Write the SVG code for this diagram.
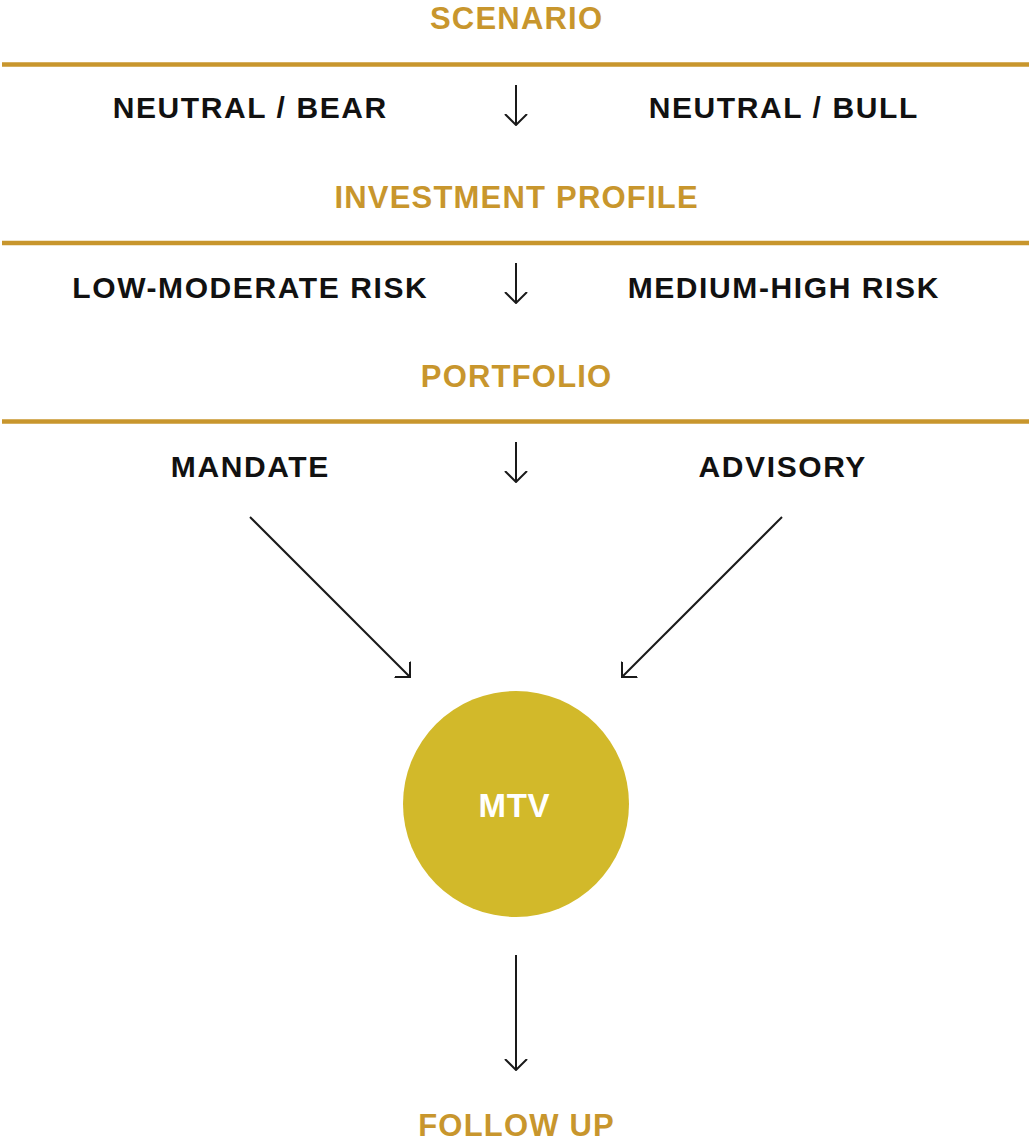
<svg xmlns="http://www.w3.org/2000/svg" width="1029" height="1144" viewBox="0 0 1029 1144">
<style>
.h{font-family:"Liberation Sans",Arial,sans-serif;font-weight:700;font-size:31px;fill:#C8962D;text-anchor:middle;letter-spacing:1.2px}
.t{font-family:"Liberation Sans",Arial,sans-serif;font-weight:700;font-size:30px;fill:#111;text-anchor:middle;letter-spacing:1.6px}
.rule{stroke:#C8962D;stroke-width:4.5}
.c{stroke:#1a1a1a;stroke-width:2;fill:none}
</style>
<defs>
<marker id="ah" viewBox="0 0 12 24" refX="11" refY="12" markerWidth="12" markerHeight="24" markerUnits="userSpaceOnUse" orient="auto">
<path d="M0,1 L11,12 L0,23" fill="none" stroke="#1a1a1a" stroke-width="2"/>
</marker>
</defs>
<rect width="1029" height="1144" fill="#fff"/>
<g id="scenario"><text class="h" x="516.6" y="29">SCENARIO</text></g>
<line class="rule" x1="2" y1="64.5" x2="1029" y2="64.5"/>
<g id="neutral-bear"><text class="t" x="250.3" y="118">NEUTRAL / BEAR</text></g>
<g id="neutral-bull"><text class="t" x="783.8" y="118">NEUTRAL / BULL</text></g>
<g id="investment-profile"><text class="h" x="516.6" y="207.5">INVESTMENT PROFILE</text></g>
<line class="rule" x1="2" y1="243" x2="1029" y2="243"/>
<g id="low-moderate"><text class="t" x="250.3" y="298">LOW-MODERATE RISK</text></g>
<g id="medium-high"><text class="t" x="783.8" y="298">MEDIUM-HIGH RISK</text></g>
<g id="portfolio"><text class="h" x="516.6" y="387">PORTFOLIO</text></g>
<line class="rule" x1="2" y1="421.5" x2="1029" y2="421.5"/>
<g id="mandate"><text class="t" x="250.3" y="476.5">MANDATE</text></g>
<g id="advisory"><text class="t" x="782.8" y="476.5">ADVISORY</text></g>
<g id="mtv">
<circle cx="516" cy="804" r="113" fill="#D2B92A"/>
<text x="514.3" y="817" style="font-family:'Liberation Sans',Arial,sans-serif;fill:#fff;font-size:33px;font-weight:700;text-anchor:middle;letter-spacing:0.6px">MTV</text>
</g>
<g id="follow-up"><text class="h" x="516.6" y="1136">FOLLOW UP</text></g>
<g id="connectors">
<line class="c" x1="516" y1="85" x2="516" y2="125" marker-end="url(#ah)"/>
<line class="c" x1="516" y1="263" x2="516" y2="303" marker-end="url(#ah)"/>
<line class="c" x1="516" y1="442" x2="516" y2="482" marker-end="url(#ah)"/>
<line class="c" x1="250" y1="517" x2="410" y2="677" marker-end="url(#ah)"/>
<line class="c" x1="782" y1="517" x2="622" y2="677" marker-end="url(#ah)"/>
<line class="c" x1="516" y1="955" x2="516" y2="1070" marker-end="url(#ah)"/>
</g>
</svg>
